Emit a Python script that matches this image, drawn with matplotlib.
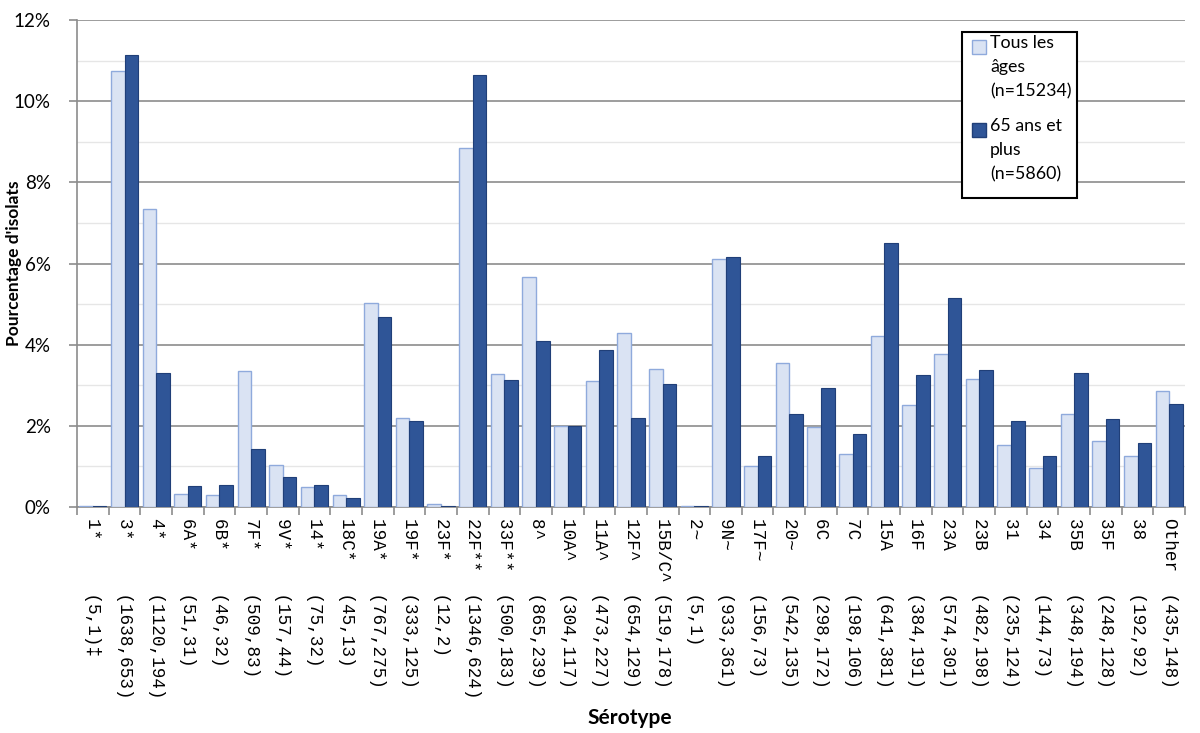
import numpy as np
import matplotlib.pyplot as plt
from matplotlib.patches import Rectangle
from matplotlib.ticker import MultipleLocator, FuncFormatter

serotypes = ["1*", "3*", "4*", "6A*", "6B*", "7F*", "9V*", "14*", "18C*", "19A*",
             "19F*", "23F*", "22F**", "33F**", "8^", "10A^", "11A^", "12F^", "15B/C^",
             "2~", "9N~", "17F~", "20~", "6C", "7C", "15A", "16F", "23A", "23B", "31",
             "34", "35B", "35F", "38", "Other"]
counts = ["(5,1)\u2021", "(1638,653)", "(1120,194)", "(51,31)", "(46,32)", "(509,83)",
          "(157,44)", "(75,32)", "(45,13)", "(767,275)", "(333,125)", "(12,2)",
          "(1346,624)", "(500,183)", "(865,239)", "(304,117)", "(473,227)", "(654,129)",
          "(519,178)", "(5,1)", "(933,361)", "(156,73)", "(542,135)", "(298,172)",
          "(198,106)", "(641,381)", "(384,191)", "(574,301)", "(482,198)", "(235,124)",
          "(144,73)", "(348,194)", "(248,128)", "(192,92)", "(435,148)"]

# pourcentages
tous_ages = [0.03, 10.75, 7.35, 0.33, 0.30, 3.34, 1.03, 0.49, 0.30, 5.03,
             2.19, 0.08, 8.84, 3.28, 5.68, 2.00, 3.10, 4.29, 3.41, 0.03,
             6.12, 1.02, 3.56, 1.96, 1.30, 4.21, 2.52, 3.77, 3.16, 1.54,
             0.95, 2.28, 1.63, 1.26, 2.86]
plus_65 = [0.02, 11.14, 3.31, 0.53, 0.55, 1.42, 0.75, 0.55, 0.22, 4.69,
           2.13, 0.03, 10.65, 3.12, 4.08, 2.00, 3.87, 2.20, 3.04, 0.02,
           6.16, 1.25, 2.30, 2.94, 1.81, 6.50, 3.26, 5.14, 3.38, 2.12,
           1.25, 3.31, 2.18, 1.57, 2.53]

c_light, e_light = "#DAE3F3", "#8FAADC"
c_dark, e_dark = "#2F5597", "#203F78"

plt.rcParams['font.family'] = ['Lato', 'DejaVu Sans']

fig = plt.figure(figsize=(12, 7.33), dpi=100)
ax = fig.add_axes([0.0642, 0.3083, 0.9233, 0.6644])

x = np.arange(len(serotypes))
w = 0.43
ax.bar(x - w/2, tous_ages, w, color=c_light, edgecolor=e_light, linewidth=1, zorder=3)
ax.bar(x + w/2, plus_65, w, color=c_dark, edgecolor=e_dark, linewidth=0.8, zorder=3)

ax.set_xlim(-0.5, len(serotypes) - 0.5)
ax.set_ylim(0, 12)
ax.yaxis.set_major_locator(MultipleLocator(2))
ax.yaxis.set_minor_locator(MultipleLocator(1))
ax.yaxis.set_major_formatter(FuncFormatter(lambda v, p: f"{v:.0f}%"))
ax.grid(axis='y', which='major', color="#8C8C8C", linewidth=1.2, zorder=0)
ax.grid(axis='y', which='minor', color="#E6E6E6", linewidth=1, zorder=0)
ax.tick_params(axis='y', which='major', labelsize=13.5, length=6, color="#8C8C8C",
               width=1.2, pad=13)
ax.tick_params(axis='y', which='minor', length=0)

# ticks aux frontières des catégories, étiquettes au centre
ax.set_xticks(np.arange(len(serotypes) + 1) - 0.5)
ax.set_xticklabels([])
ax.tick_params(axis='x', which='major', length=6, color="#8C8C8C", width=1.2)
ax.set_xticks(x, minor=True)
labels = [f"{s:<7}{c}" for s, c in zip(serotypes, counts)]
ax.set_xticklabels(labels, minor=True, rotation=-90, fontsize=12.7,
                   family=['Liberation Mono', 'DejaVu Sans Mono'], va='top', ha='center')
ax.tick_params(axis='x', which='minor', length=0, pad=8)

for s in ['top', 'right']:
    ax.spines[s].set_visible(False)
for s in ['left', 'bottom']:
    ax.spines[s].set_color("#8C8C8C")
    ax.spines[s].set_linewidth(1.2)

fig.text(14/1200, 1 - 263/733, "Pourcentage d'isolats", rotation=90, ha='center',
         va='center', fontsize=12.5, fontweight='bold')
fig.text(630/1200, 1 - 718/733, "Sérotype", ha='center', va='center',
         fontsize=15, fontweight='bold')

# légende
fig.patches.append(Rectangle((962/1200, 1 - 198/733), 115/1200, 166/733,
                             transform=fig.transFigure, facecolor='white',
                             edgecolor='black', linewidth=1.5, zorder=5))
entries = [("Tous les\nâges\n(n=15234)", c_light, e_light, 40),
           ("65 ans et\nplus\n(n=5860)", c_dark, e_dark, 123)]
for txt, fc, ec, ytop in entries:
    fig.patches.append(Rectangle((972/1200, 1 - (ytop + 14)/733), 14/1200, 14/733,
                                 transform=fig.transFigure, facecolor=fc,
                                 edgecolor=ec, linewidth=1, zorder=6))
    fig.text(990/1200, 1 - (ytop - 5)/733, txt, ha='left', va='top', fontsize=12.8,
             linespacing=1.62, zorder=7)

fig.savefig("out.png", dpi=100)
